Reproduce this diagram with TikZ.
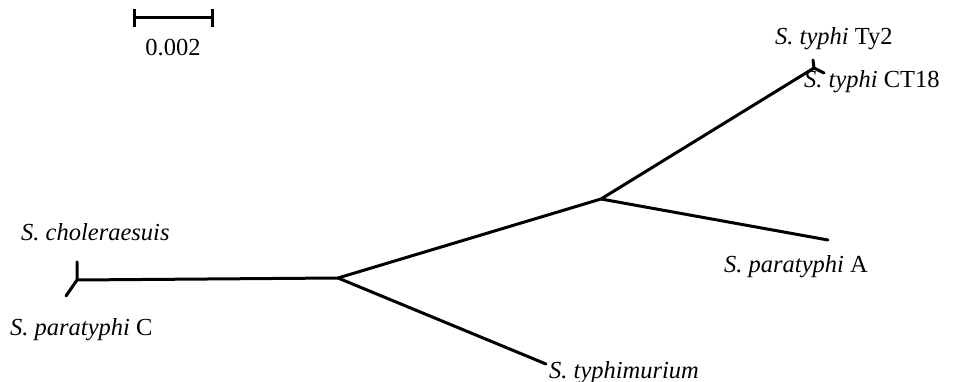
\documentclass[tikz,border=0pt]{standalone}
\usepackage{fontspec}
\setmainfont{Liberation Serif}
\begin{document}
\begin{tikzpicture}[x=1pt,y=-1pt,
  branch/.style={line width=3pt,line cap=round,line join=round},
  lbl/.style={font=\fontsize{24.5}{28}\selectfont,inner sep=0pt,anchor=base west}]
\useasboundingbox (0,0) rectangle (970,382);
% nodes of the tree
\coordinate (L) at (77,280);
\coordinate (Lu) at (77,262);
\coordinate (Ld) at (66,296);
\coordinate (A) at (338,278);
\coordinate (B) at (601,199);
\coordinate (T) at (814,68);
\coordinate (Tu) at (813,60);
\coordinate (Td) at (824,73);
\coordinate (PA) at (828,240);
\coordinate (TM) at (546,364);
\draw[branch] (Lu) -- (L) -- (Ld);
\draw[branch] (L) -- (A) -- (B) -- (T);
\draw[branch] (Tu) -- (T) -- (Td);
\draw[branch] (A) -- (TM);
\draw[branch] (B) -- (PA);
% scale bar
\coordinate (s1) at (134,18);
\coordinate (s2) at (212,18);
\draw[branch,line cap=butt] (s1) -- (s2);
\draw[branch,line cap=butt] ([yshift=-9pt]s1) -- ([yshift=9pt]s1);
\draw[branch,line cap=butt] ([yshift=-9pt]s2) -- ([yshift=9pt]s2);
\node[font=\fontsize{24.5}{28}\selectfont,inner sep=0pt] (sl) at (173,48) {0.002};
% labels
\node[lbl] (n1) at (21,241) {\textit{S. choleraesuis}};
\node[lbl] (n2) at (10,335) {\textit{S. paratyphi} C};
\node[lbl] (n3) at (549,378) {\textit{S. typhimurium}};
\node[lbl] (n4) at (724,273) {\textit{S. paratyphi} A};
\node[lbl] (n5) at (775,45) {\textit{S. typhi} Ty2};
\node[lbl] (n6) at (804,88) {\textit{S. typhi} CT18};
\end{tikzpicture}
\end{document}
